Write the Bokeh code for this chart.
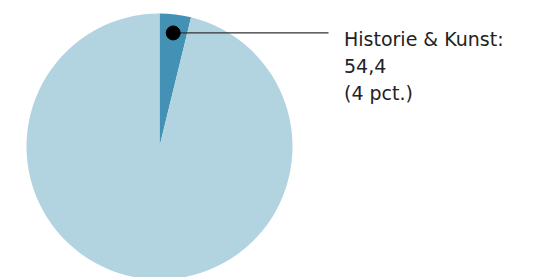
import numpy as np
from bokeh.plotting import figure
from bokeh.models import Range1d
from bokeh.core.properties import value
from bokeh.embed import file_html
from bokeh.resources import INLINE

categories = ["Historie & Kunst", "Øvrige"]
values = [54.4, 1370.0]
colors = ["#4392b5", "#b2d3e0"]

W, H = 533, 277
p = figure(width=W, height=H, output_backend="svg", toolbar_location=None,
           x_range=Range1d(0, W), y_range=Range1d(0, H), min_border=0)
p.axis.visible = False
p.grid.visible = False
p.outline_line_color = None
p.background_fill_color = None
p.border_fill_color = None

cx, cy, R = 159, 131, 133
vals = np.array(values)
frac = vals / vals.sum()
ends = np.pi / 2 - np.concatenate([[0], np.cumsum(frac)[:-1]]) * 2 * np.pi
starts = ends - frac * 2 * np.pi
for s, e, c in zip(starts, ends, colors):
    p.wedge(x=cx, y=cy, radius=R, start_angle=s, end_angle=e, color=c, line_color=None)

mid = (starts[0] + ends[0]) / 2
dx = cx + 0.86 * R * np.cos(mid)
dy = cy + 0.86 * R * np.sin(mid)
p.line(x=[dx, 328], y=[dy, dy], line_color="#333333", line_width=1.2)
p.scatter(x=[dx], y=[dy], size=14, color="#000000")

pct = round(frac[0] * 100)
lines = [f"{categories[0]}:", f"{values[0]:.1f}".replace(".", ","), f"({pct} pct.)"]
p.text(x=[343.5] * 3, y=[238.5, 211.5, 185], text=lines, text_font=value("DejaVu Sans"),
       text_font_size="19px", text_color="#222222", text_baseline="alphabetic")

open("out.html", "w").write(file_html(p, INLINE))
